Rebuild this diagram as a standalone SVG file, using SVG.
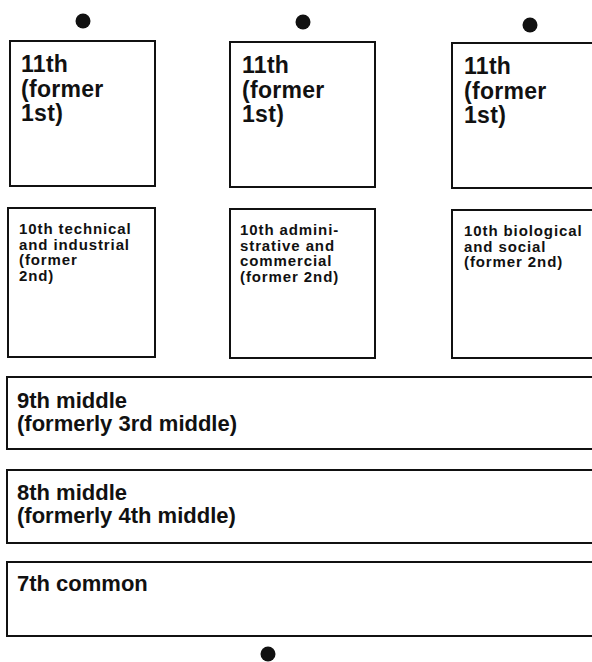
<svg xmlns="http://www.w3.org/2000/svg" width="592" height="662" viewBox="0 0 592 662">
<style>
.box{fill:#fff;stroke:#111;stroke-width:2}
.dot{fill:#111}
.t{font-family:"Liberation Sans",Arial,Helvetica,sans-serif;font-weight:bold;fill:#111}
.big{font-size:23px;letter-spacing:0.3px}
.sm{font-size:15px;letter-spacing:0.9px}
.mid{font-size:22px}
</style>
<rect width="592" height="662" fill="#fff"/>
<g id="connectors">
<circle class="dot" cx="83" cy="21" r="7.5"/>
<circle class="dot" cx="303" cy="22" r="7.5"/>
<circle class="dot" cx="530" cy="25" r="7.5"/>
<circle class="dot" cx="268" cy="654" r="7.5"/>
</g>
<g id="n11a">
<rect class="box" x="10" y="41" width="145" height="145"/>
<text class="t big"><tspan x="21" y="72">11th</tspan><tspan x="21" y="96.5">(former</tspan><tspan x="21" y="121">1st)</tspan></text>
</g>
<g id="n11b">
<rect class="box" x="230" y="42" width="145" height="145"/>
<text class="t big"><tspan x="242" y="73">11th</tspan><tspan x="242" y="97.5">(former</tspan><tspan x="242" y="122">1st)</tspan></text>
</g>
<g id="n11c">
<rect class="box" x="452" y="43" width="150" height="145"/>
<text class="t big"><tspan x="464" y="74">11th</tspan><tspan x="464" y="98.5">(former</tspan><tspan x="464" y="123">1st)</tspan></text>
</g>
<g id="n10a">
<rect class="box" x="8" y="208" width="147" height="149"/>
<text class="t sm"><tspan x="19" y="234">10th technical</tspan><tspan x="19" y="249.5">and industrial</tspan><tspan x="19" y="265">(former</tspan><tspan x="19" y="280.5">2nd)</tspan></text>
</g>
<g id="n10b">
<rect class="box" x="230" y="209" width="145" height="149"/>
<text class="t sm"><tspan x="240" y="235">10th admini-</tspan><tspan x="240" y="250.5">strative and</tspan><tspan x="240" y="266">commercial</tspan><tspan x="240" y="281.5">(former 2nd)</tspan></text>
</g>
<g id="n10c">
<rect class="box" x="452" y="210" width="150" height="148"/>
<text class="t sm"><tspan x="464" y="236">10th biological</tspan><tspan x="464" y="251.5">and social</tspan><tspan x="464" y="267">(former 2nd)</tspan></text>
</g>
<g id="n9">
<rect class="box" x="7" y="377" width="600" height="72"/>
<text class="t mid"><tspan x="17" y="408">9th middle</tspan><tspan x="17" y="431">(formerly 3rd middle)</tspan></text>
</g>
<g id="n8">
<rect class="box" x="7" y="470" width="600" height="73"/>
<text class="t mid"><tspan x="17" y="500">8th middle</tspan><tspan x="17" y="523">(formerly 4th middle)</tspan></text>
</g>
<g id="n7">
<rect class="box" x="7" y="562" width="600" height="74"/>
<text class="t mid" x="17" y="591">7th common</text>
</g>
</svg>
